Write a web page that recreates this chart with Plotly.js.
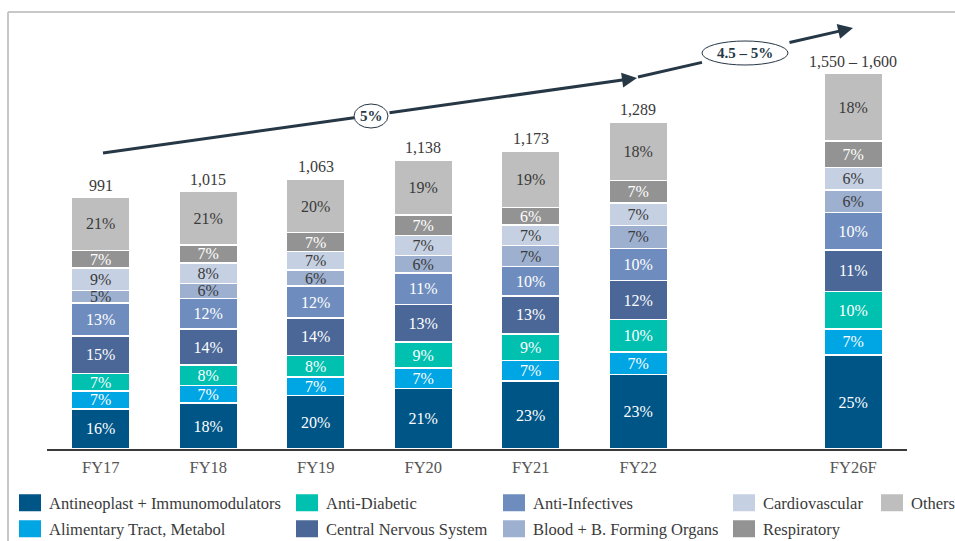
<!DOCTYPE html>
<html><head><meta charset="utf-8">
<script src="https://cdn.plot.ly/plotly-3.0.1.min.js"></script>
<style>html,body{margin:0;padding:0;background:#fff}#chart{width:955px;height:541px}</style>
</head><body><div id="chart"></div>
<script>
// ---------- data ----------
const years = ['FY17','FY18','FY19','FY20','FY21','FY22','FY26F'];
const xPos = [0,1,2,3,4,5,7];
const totals = [991,1015,1063,1138,1173,1289,1480]; // drawn bar heights (FY26F bar as drawn)
const totalLabels = ['991','1,015','1,063','1,138','1,173','1,289','1,550 – 1,600'];
const segNames = ['Antineoplast + Immunomodulators','Alimentary Tract, Metabol','Anti-Diabetic','Central Nervous System','Anti-Infectives','Blood + B. Forming Organs','Cardiovascular','Respiratory','Others'];
const antineoplast   = [16,18,20,21,23,23,25];
const alimentary     = [7,7,7,7,7,7,7];
const antiDiabetic   = [7,8,8,9,9,10,10];
const cns            = [15,14,14,13,13,12,11];
const antiInfectives = [13,12,12,11,10,10,10];
const blood          = [5,6,6,6,7,7,6];
const cardio         = [9,8,7,7,7,7,6];
const respiratory    = [7,7,7,7,6,7,7];
const others         = [21,21,20,19,19,18,18];
const cagrLabels = ['5%','4.5 – 5%'];

// ---------- styles ----------
const segData = [antineoplast,alimentary,antiDiabetic,cns,antiInfectives,blood,cardio,respiratory,others];
const colors = ['#005587','#00A5E3','#00C0B0','#4A6797','#6E8DBE','#9DB0D0','#C5D0E2','#939393','#BEBEBE'];
const txtColors = ['#fff','#fff','#fff','#fff','#fff','#3a3a3a','#3a3a3a','#fff','#3a3a3a'];
const FONT = 'Liberation Serif';
// legend placement: [textX px, row]
const legPos = [[49,0],[49,1],[326,0],[326,1],[533,0],[533,1],[763,0],[763,1],[911,0]];

// plot geometry
const L = 47, R = 48, T = 20, B = 92, W = 955, H = 541;
const pw = W - L - R, ph = H - T - B;
const YMAX = 1691;
const dx = px => (px - L) / (pw / 8) - 0.5;
const dy = py => (H - B - py) * YMAX / ph;
const paperX = px => (px - L) / pw;
const paperY = py => (H - B - py) / ph;

const sums = xPos.map((_, i) => segData.reduce((s, a) => s + a[i], 0));

const traces = segData.map((arr, k) => ({
  type: 'bar',
  name: segNames[k],
  x: xPos,
  y: arr.map((p, i) => totals[i] * p / sums[i]),
  text: arr.map(p => p + '%'),
  textposition: 'inside',
  insidetextanchor: 'middle',
  textangle: 0,
  textfont: {family: FONT, size: 16, color: txtColors[k]},
  marker: {color: colors[k], line: {color: '#fff', width: 1.5}},
  width: 0.54,
  hoverinfo: 'skip',
  legend: k === 0 ? 'legend' : 'legend' + (k + 1)
}));

const layout = {
  width: W, height: H,
  margin: {l: L, r: R, t: T, b: B, autoexpand: false},
  paper_bgcolor: '#fff', plot_bgcolor: '#fff',
  barmode: 'stack',
  uniformtext: {mode: 'show', minsize: 16},
  font: {family: FONT, color: '#3a3a3a'},
  xaxis: {range: [-0.5, 7.5], tickvals: xPos, ticktext: years, showline: true, linecolor: '#3a3a3a', linewidth: 1.5,
          ticks: '', showgrid: false, zeroline: false, fixedrange: true, ticklabelstandoff: 3,
          tickfont: {family: FONT, size: 16.5, color: '#555'}},
  yaxis: {range: [0, YMAX], visible: false, fixedrange: true},
  showlegend: true,
  shapes: [
    {type: 'line', xref: 'paper', yref: 'paper', x0: paperX(8), x1: paperX(960), y0: paperY(12), y1: paperY(12), line: {color: '#C8C8C8', width: 2}},
    {type: 'line', xref: 'paper', yref: 'paper', x0: paperX(8), x1: paperX(8), y0: paperY(12), y1: paperY(545), line: {color: '#C8C8C8', width: 2}},
    {type: 'line', xref: 'x', yref: 'y', x0: dx(103), y0: dy(153), x1: dx(354), y1: dy(117.8), line: {color: '#263746', width: 3}},
    {type: 'line', xref: 'x', yref: 'y', x0: dx(638), y0: dy(77), x1: dx(702), y1: dy(62.4), line: {color: '#263746', width: 3}},
    {type: 'circle', xref: 'x', yref: 'y', x0: dx(354), x1: dx(388), y0: dy(104), y1: dy(128), fillcolor: '#fff', line: {color: '#263746', width: 1}},
    {type: 'circle', xref: 'x', yref: 'y', x0: dx(702), x1: dx(788), y0: dy(41), y1: dy(65), fillcolor: '#fff', line: {color: '#263746', width: 1}}
  ],
  annotations: [
    {x: dx(637), y: dy(78), ax: dx(388), ay: dy(113), axref: 'x', ayref: 'y', xref: 'x', yref: 'y', text: '', showarrow: true,
     arrowhead: 2, arrowsize: 1, arrowwidth: 3, arrowcolor: '#263746', standoff: 0, startstandoff: 0},
    {x: dx(853), y: dy(28), ax: dx(788), ay: dy(42.8), axref: 'x', ayref: 'y', xref: 'x', yref: 'y', text: '', showarrow: true,
     arrowhead: 2, arrowsize: 1, arrowwidth: 3, arrowcolor: '#263746', standoff: 0, startstandoff: 0},
    {x: dx(371), y: dy(116), xref: 'x', yref: 'y', text: '<b>' + cagrLabels[0] + '</b>', showarrow: false, font: {family: FONT, size: 15, color: '#263746'}},
    {x: dx(745), y: dy(53), xref: 'x', yref: 'y', text: '<b>' + cagrLabels[1] + '</b>', showarrow: false, font: {family: FONT, size: 15, color: '#263746'}}
  ].concat(xPos.map((x, i) => ({
    x: x, y: totals[i], xref: 'x', yref: 'y', text: totalLabels[i], showarrow: false,
    yanchor: 'bottom', yshift: 2, font: {family: FONT, size: 16, color: '#3a3a3a'}
  })))
};

legPos.forEach((p, k) => {
  const id = k === 0 ? 'legend' : 'legend' + (k + 1);
  layout[id] = {
    x: paperX(p[0] - 40), xanchor: 'left',
    y: paperY(p[1] === 0 ? 503 : 529), yanchor: 'middle',
    orientation: 'v', bgcolor: 'rgba(0,0,0,0)', borderwidth: 0,
    font: {family: FONT, size: 16.5, color: '#3a3a3a'},
    itemclick: false, itemdoubleclick: false
  };
});

const gdEl = document.getElementById('chart');
function widenSwatches() {
  // enlarge legend swatches to match the reference's wider rectangles
  gdEl.querySelectorAll('.legendpoints path').forEach(p => {
    p.setAttribute('d', 'M12,8.5H-10V-8.5H12Z');
    p.style.strokeWidth = '0px';
  });
}
const pr = Plotly.newPlot(gdEl, traces, layout, {displayModeBar: false, staticPlot: true});
widenSwatches();
pr.then(() => { widenSwatches(); setTimeout(widenSwatches, 0); setTimeout(widenSwatches, 50); });
</script>
</body></html>
